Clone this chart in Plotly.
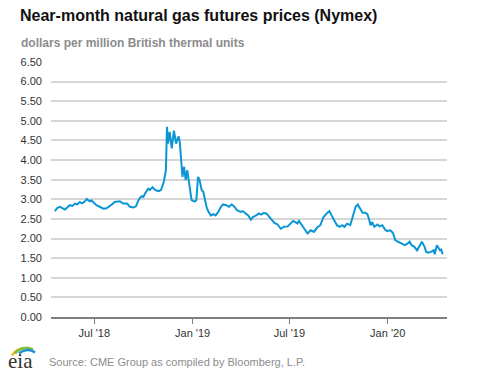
import plotly.graph_objects as go

dates = ["2018-04-18","2018-04-23","2018-04-28","2018-05-03","2018-05-07","2018-05-12","2018-05-16","2018-05-21",
"2018-05-26","2018-05-30","2018-06-04","2018-06-07","2018-06-10","2018-06-14","2018-06-17","2018-06-20","2018-06-23",
"2018-06-26","2018-06-29","2018-07-05","2018-07-11","2018-07-15","2018-07-18","2018-07-24","2018-07-30","2018-08-04",
"2018-08-08","2018-08-13","2018-08-18","2018-08-21","2018-08-24","2018-08-31","2018-09-06","2018-09-12","2018-09-17",
"2018-09-21","2018-09-25","2018-09-28","2018-10-01","2018-10-04","2018-10-07","2018-10-10","2018-10-13","2018-10-18",
"2018-10-21","2018-10-24","2018-10-30","2018-11-03","2018-11-08","2018-11-12","2018-11-14","2018-11-16","2018-11-19",
"2018-11-21","2018-11-23","2018-11-27","2018-12-01","2018-12-04","2018-12-06","2018-12-08","2018-12-10","2018-12-13",
"2018-12-16","2018-12-19","2018-12-22","2018-12-27","2018-12-30","2019-01-02","2019-01-05","2019-01-08","2019-01-11",
"2019-01-14","2019-01-18","2019-01-21","2019-01-24","2019-01-27","2019-01-30","2019-02-04","2019-02-09","2019-02-13",
"2019-02-18","2019-02-23","2019-02-27","2019-03-05","2019-03-10","2019-03-15","2019-03-19","2019-03-25","2019-04-01",
"2019-04-05","2019-04-10","2019-04-15","2019-04-20","2019-04-24","2019-04-30","2019-05-05","2019-05-09","2019-05-14",
"2019-05-19","2019-05-24","2019-05-28","2019-06-03","2019-06-09","2019-06-15","2019-06-21","2019-06-28","2019-07-03",
"2019-07-08","2019-07-12","2019-07-16","2019-07-19","2019-07-23","2019-07-29","2019-08-04","2019-08-10","2019-08-16",
"2019-08-22","2019-08-28","2019-09-03","2019-09-09","2019-09-14","2019-09-18","2019-09-23","2019-09-28","2019-10-03",
"2019-10-08","2019-10-12","2019-10-17","2019-10-23","2019-10-28","2019-11-02","2019-11-06","2019-11-11","2019-11-15",
"2019-11-20","2019-11-24","2019-11-27","2019-11-30","2019-12-03","2019-12-07","2019-12-13","2019-12-17","2019-12-22",
"2019-12-27","2019-12-31","2020-01-06","2020-01-11","2020-01-15","2020-01-20","2020-01-24","2020-01-28","2020-02-02",
"2020-02-07","2020-02-11","2020-02-15","2020-02-20","2020-02-25","2020-03-01","2020-03-05","2020-03-10","2020-03-13",
"2020-03-17","2020-03-22","2020-03-27","2020-03-29","2020-04-02","2020-04-05","2020-04-08","2020-04-10","2020-04-13"]

prices = [2.70,2.78,2.81,2.76,2.74,2.80,2.85,2.83,
2.89,2.87,2.93,2.90,2.91,2.96,3.01,2.97,2.95,
2.97,2.93,2.85,2.81,2.78,2.76,2.77,2.82,2.88,
2.93,2.94,2.95,2.92,2.89,2.89,2.81,2.79,2.82,
2.96,3.05,3.08,3.06,3.15,3.23,3.27,3.24,3.31,
3.26,3.23,3.21,3.24,3.44,3.74,4.85,4.42,4.72,
4.55,4.30,4.75,4.42,4.55,4.60,4.45,4.00,3.57,
3.83,3.49,3.74,3.23,2.98,2.96,2.94,2.98,3.57,
3.49,3.23,3.19,2.98,2.81,2.70,2.59,2.62,2.59,
2.68,2.81,2.87,2.85,2.81,2.87,2.83,2.72,2.68,
2.70,2.64,2.59,2.48,2.55,2.59,2.64,2.61,2.65,
2.64,2.55,2.48,2.40,2.36,2.25,2.30,2.31,2.38,
2.45,2.42,2.38,2.45,2.36,2.25,2.13,2.21,2.17,
2.28,2.34,2.55,2.64,2.70,2.59,2.47,2.34,2.30,
2.34,2.30,2.38,2.34,2.55,2.81,2.87,2.75,2.66,
2.66,2.62,2.50,2.34,2.42,2.30,2.36,2.31,2.34,
2.23,2.19,2.21,2.14,1.96,1.92,1.89,1.87,1.83,
1.87,1.92,1.83,1.79,1.70,1.83,1.92,1.79,1.66,
1.64,1.66,1.70,1.60,1.83,1.77,1.70,1.72,1.60]

y_ticks = [0.0, 0.5, 1.0, 1.5, 2.0, 2.5, 3.0, 3.5, 4.0, 4.5, 5.0, 5.5, 6.0, 6.5]
x_tick_vals = ["2018-07-01", "2019-01-01", "2019-07-01", "2020-01-01"]
x_tick_text = ["Jul '18", "Jan '19", "Jul '19", "Jan '20"]

W, H = 477, 379
L, R, T, B = 51, 447, 62, 316.7

def px(x):
    return (x - L) / (R - L)

def py(y):
    return (B - y) / (B - T)

fig = go.Figure()
fig.add_trace(go.Scatter(x=dates, y=prices, mode="lines",
                         line=dict(color="#0a96d4", width=2), hoverinfo="skip"))

fig.update_layout(
    width=W, height=H,
    margin=dict(l=L, r=W - R, t=T, b=H - B),
    paper_bgcolor="white", plot_bgcolor="white",
    showlegend=False,
    font=dict(family="Liberation Sans, Arial, sans-serif", color="#333333", size=11),
    xaxis=dict(range=["2018-04-11", "2020-04-21"], tickvals=x_tick_vals, ticktext=x_tick_text,
               showgrid=False, zeroline=False, showline=True, linecolor="#7f7f7f", linewidth=2,
               ticks="outside", ticklen=5, tickcolor="#7f7f7f", tickwidth=1,
               tickfont=dict(size=11, color="#333333")),
    yaxis=dict(range=[0, 6.5], tickvals=y_ticks, tickformat=".2f",
               showgrid=True, gridcolor="#d6d6d6", gridwidth=1.5, zeroline=False,
               showline=False, ticks="", ticklabelstandoff=8,
               tickfont=dict(size=11, color="#333333")),
)

ann = []
ann.append(dict(text="<b>Near-month natural gas futures prices (Nymex)</b>", x=px(18), y=py(16),
                xref="paper", yref="paper", xanchor="left", yanchor="middle", showarrow=False,
                font=dict(size=16, color="#111111")))
ann.append(dict(text="<b>dollars per million British thermal units</b>", x=px(19), y=py(43),
                xref="paper", yref="paper", xanchor="left", yanchor="middle", showarrow=False,
                font=dict(size=12, color="#8c8c8c")))
ann.append(dict(text="Source: CME Group as compiled by Bloomberg, L.P.", x=px(47), y=py(362),
                xref="paper", yref="paper", xanchor="left", yanchor="middle", showarrow=False,
                font=dict(size=11, color="#8c8c8c")))
ann.append(dict(text="eia", x=px(20.5), y=py(361), xref="paper", yref="paper",
                xanchor="center", yanchor="middle", showarrow=False,
                font=dict(size=21, color="#333333", family="Liberation Serif, serif")))
fig.update_layout(annotations=ann)

def arc(p0, c, p1):
    return "M {},{} Q {},{} {},{}".format(px(p0[0]), py(p0[1]), px(c[0]), py(c[1]), px(p1[0]), py(p1[1]))

shapes = [
    dict(type="path", path=arc((12, 355), (18, 346), (30, 348)), xref="paper", yref="paper",
         line=dict(color="#f2b417", width=2.5)),
    dict(type="path", path=arc((15, 353), (22, 345), (33, 349)), xref="paper", yref="paper",
         line=dict(color="#7cbf3f", width=2.5)),
    dict(type="path", path=arc((19, 353), (27, 347), (35, 352)), xref="paper", yref="paper",
         line=dict(color="#1c8fd1", width=2.5)),
]
fig.update_layout(shapes=shapes)

fig.write_html("out.html", config={"displayModeBar": False},
               post_script="document.body.style.margin='0';document.body.style.overflow='hidden';")
